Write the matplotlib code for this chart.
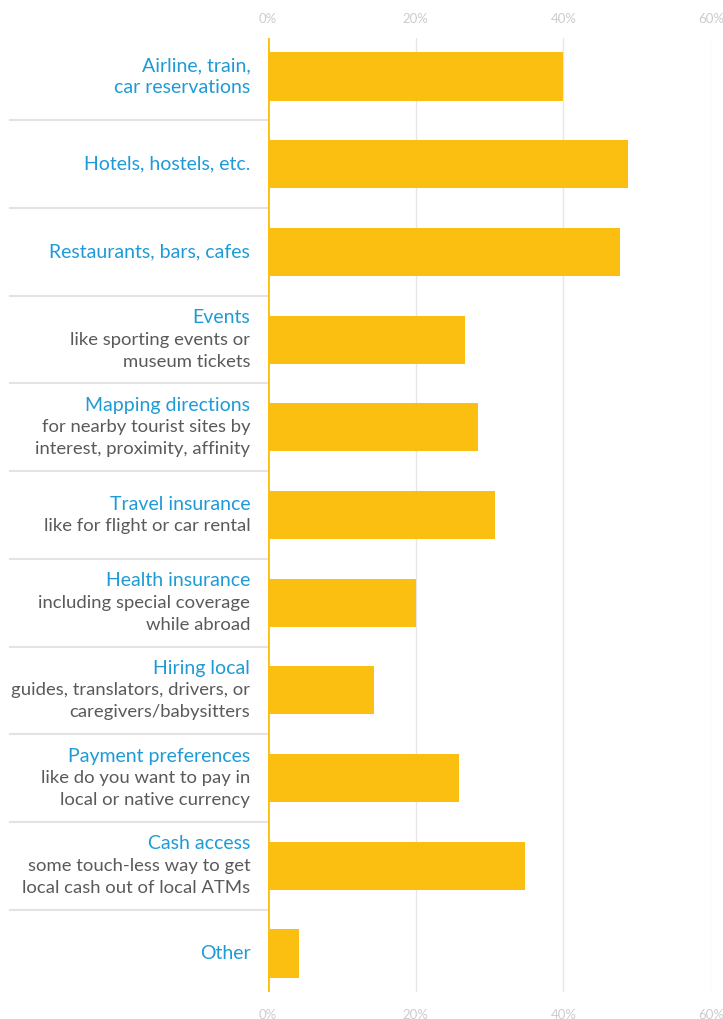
import matplotlib.pyplot as plt
import matplotlib.transforms as mtransforms

plt.rcParams['font.family'] = ['Lato', 'DejaVu Sans']

titles = ['Airline, train,\ncar reservations', 'Hotels, hostels, etc.', 'Restaurants, bars, cafes',
          'Events', 'Mapping directions', 'Travel insurance', 'Health insurance',
          'Hiring local', 'Payment preferences', 'Cash access', 'Other']
subtitles = ['', '', '',
             'like sporting events or\nmuseum tickets',
             'for nearby tourist sites by\ninterest, proximity, affinity',
             'like for flight or car rental',
             'including special coverage\nwhile abroad',
             'guides, translators, drivers, or\ncaregivers/babysitters',
             'like do you want to pay in\nlocal or native currency',
             'some touch-less way to get\nlocal cash out of local ATMs',
             '']
values = [40.0, 48.8, 47.7, 26.7, 28.5, 30.8, 20.0, 14.4, 25.9, 34.8, 4.2]
ticks = [0, 20, 40, 60]
tick_labels = [f'{t}%' for t in ticks]

yellow = '#FBBF12'
blue = '#1E9BD7'
gray = '#5a5a5a'

fig = plt.figure(figsize=(7.23, 10.19), dpi=100)
ax = fig.add_axes([268/723, 1 - 992/1019, 443/723, 954/1019])

n = len(values)
ys = list(range(n))
ax.barh(ys, values, height=0.55, color=yellow, zorder=3)
ax.set_xlim(0, 60)
ax.set_ylim(n - 0.56, -0.44)

for t in ticks[1:]:
    ax.axvline(t, color='#e6e6e6', lw=1, zorder=1)
ax.axvline(0, color=yellow, lw=2, zorder=4)

for s in ax.spines.values():
    s.set_visible(False)
ax.set_yticks([])
ax.set_xticks(ticks)
ax.set_xticklabels(tick_labels)
ax.tick_params(axis='x', length=0, labelsize=9.5, labelcolor='#cccccc', pad=12)

top = ax.secondary_xaxis('top')
top.set_xticks(ticks)
top.set_xticklabels(tick_labels)
top.tick_params(axis='x', length=0, labelsize=9.5, labelcolor='#cccccc', pad=9)
top.spines['top'].set_visible(False)

trans = mtransforms.blended_transform_factory(ax.transAxes, ax.transData)

# separators between label blocks
for i in range(n - 1):
    ax.plot([-0.582, -0.002], [i + 0.5, i + 0.5], color='#e3e3e3', lw=1.5,
            transform=trans, clip_on=False)

line_px = 22
for i in range(n):
    lines = [(l, blue, 14) for l in titles[i].split('\n')]
    if subtitles[i]:
        lines += [(l, gray, 13.3) for l in subtitles[i].split('\n')]
    k = len(lines)
    for j, (txt, col, fs) in enumerate(lines):
        off = -(j - (k - 1) / 2) * line_px * 72 / 100
        tr = mtransforms.offset_copy(trans, fig=fig, x=0, y=off, units='points')
        ax.text(-0.04, i, txt, transform=tr, ha='right', va='center',
                fontsize=fs, color=col)

fig.savefig('out.png', dpi=100)
